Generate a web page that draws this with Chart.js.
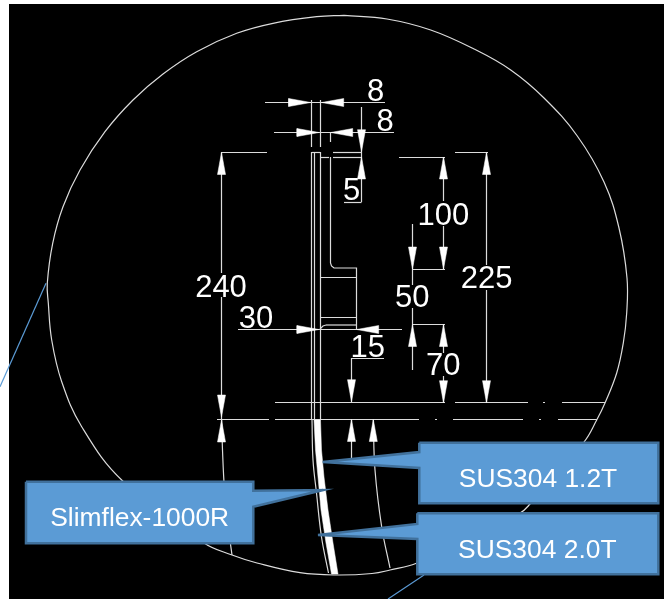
<!DOCTYPE html>
<html>
<head>
<meta charset="utf-8">
<title>Slimflex-1000R</title>
<script src="https://cdn.jsdelivr.net/npm/chart.js@4/dist/chart.umd.min.js"></script>
<style>
	html, body { margin:0; padding:0; background:#fff; }
	canvas { display:block; }
</style>
</head>
<body>
<canvas id="myChart" width="664" height="599"></canvas>
<script>
// drawing area
var plate = [[9,4],[664,4],[664,599],[9,599],[9,4]];

// detail circle, clockwise from the top
var circle = [[344,15.3],[387,19],[430.7,30],[474,49],[510.7,70],[544,98],[577.3,136],[604,182],[619,228],[627,278],[626.7,313],[623.3,343],[616.7,373],[605,403],[596.7,420],[584,442],[530,504],[520,513],[417,563],[390,570],[372,573.5],[336,575],[300,572.7],[257,563],[232,555],[204,543],[122.7,481],[81.7,426.7],[61.7,381.7],[51.7,340],[48.3,303],[47.3,283.3],[52.7,243.3],[63,206.7],[80,170],[105,131.7],[133,100],[163,74],[196.7,51.7],[236.7,33.3],[273,23.3],[316.7,16.7],[344,15.3]];

// curved sheet below the break line
var sheet = [[314,420],[315.5,450],[318,477],[321,510],[326,543],[331.5,574],[338,574],[333,543],[328,510],[324,477],[321.5,450],[320.5,420],[314,420]];
var sheetEdge = [[312,420],[313,460],[316.5,493],[321.5,537],[328.5,573]];
var leftCurve = [[221.7,420],[222.5,450],[224.5,490],[228,525],[232,555]];
var rightCurve = [[373.3,420],[375,470],[381.7,527],[390,568]];

// straight lines: x1, y1, x2, y2
var lines = [
	[265,102.5,385,102.5],[311.5,100,311.5,147],[320.5,100,320.5,147],
	[274,132.5,394,132.5],[330.5,132,330.5,142],
	[361.5,107,361.5,202],[344,202.5,361.5,202.5],
	[221,152.5,267,152.5],[312,152.5,320,152.5],[333,152.5,362,152.5],[455,152.5,488,152.5],
	[320,157.5,329,157.5],[333,157.5,362,157.5],[399,157.5,445,157.5],
	[221.5,152,221.5,273],[221.5,297,221.5,419],
	[311.5,152,311.5,420],[314.5,152,314.5,420],[320.5,152,320.5,420],
	[320,277.5,356,277.5],[320,317.5,356,317.5],[326,325,356,325],
	[238,329.5,402,329.5],
	[351.5,358.5,384,358.5],[351.5,358,351.5,402],[351.5,420,351.5,460],
	[443.5,157,443.5,201],[443.5,226,443.5,269],[412,269.5,445,269.5],
	[412,324.5,445,324.5],[443.5,324,443.5,353],[443.5,376,443.5,403],
	[412.5,224,412.5,285],[412.5,308,412.5,370],
	[486.5,152,486.5,265],[486.5,290,486.5,403],
	[275,402.5,445,402.5],[455,402.5,528,402.5],[543,402.5,545,402.5],[562,402.5,605,402.5],
	[217,419.5,269,419.5],[275,419.5,419,419.5],[435,419.5,437,419.5],[453,419.5,523,419.5],[539,419.5,541,419.5],[558,419.5,597,419.5]
];
var flange = [[330.5,157],[330.5,263],[331.5,266],[334,268],[356.5,268],[356.5,330]];
var flangeFoot = [[320,329],[323,326],[326,325]];

// arrow tips
var arrowsRight = [[310.7,102.5],[319,132.5],[319,329.5]];
var arrowsLeft = [[321.7,102.5],[330.7,132.5],[356.7,329.5]];
var arrowsUp = [[221.5,152.5],[361.5,157],[443.5,157],[486.5,152.5],[412.5,324.5],[443.5,324.5],[221.5,420],[351.5,419.5],[373.3,419.5]];
var arrowsDown = [[361.5,151.7],[443.5,269],[412.5,269],[443.5,402.7],[486.5,402.7],[221.5,417],[351.5,401.7]];

// leader lines outside the circle
var leaderLeft = [[46,283.3],[0,386.7]];
var leaderBottom = [[424,575],[388,599]];

// callouts
var calloutSheet1 = [[419.3,442.7],[658.3,442.7],[658.3,503.3],[419.3,503.3],[419.3,468],[322.7,462],[419.3,452],[419.3,442.7]];
var calloutSheet2 = [[417.3,513.3],[658.3,513.3],[658.3,574.3],[417.3,574.3],[417.3,539],[318,535],[417.3,524],[417.3,513.3]];
var calloutSlim = [[26,481.7],[253.3,481.7],[253.3,490.7],[323,490],[253.3,506.7],[253.3,543.3],[26,543.3],[26,481.7]];

// texts
var dimLabels = ["8","8","5","240","30","15","100","50","225","70"];
var dimX = [375.7,385,351.7,221,256,367.7,443.3,412.3,486.7,443.3];
var dimY = [92,122,191.3,288,319,348.7,216,298.7,279.7,366];
var calloutLabels = ["SUS304 1.2T","SUS304 2.0T","Slimflex-1000R"];
var calloutX = [538,537.3,139.7];
var calloutY = [479.5,550.8,518.8];

var lineColor = "#dcdcdc";
var sets = [];

function toPoints(list){
	return list.map(function(p){ return {x:p[0], y:p[1]}; });
}
function addLine(list, color, width, tension){
	sets.push({
		data : toPoints(list),
		showLine : true,
		pointRadius : 0,
		borderColor : color,
		borderWidth : width,
		tension : tension || 0,
		clip : false
	});
}
function addShape(list, fill, edge, width){
	sets.push({
		data : toPoints(list),
		showLine : true,
		pointRadius : 0,
		fill : "shape",
		backgroundColor : fill,
		borderColor : edge,
		borderWidth : width,
		borderJoinStyle : "miter",
		clip : false
	});
}
function addArrows(tips, dx, dy){
	tips.forEach(function(t){
		var bx = t[0] + dx * 22, by = t[1] + dy * 22;
		addShape([[t[0],t[1]],[bx + dy * 4,by + dx * 4],[bx - dy * 4,by - dx * 4],[t[0],t[1]]], "#fff", "#fff", 0.5);
	});
}

addShape(plate, "#000", "#000", 0);
addLine(leaderLeft, "#5b9bd5", 1.2);
addLine(leaderBottom, "#5b9bd5", 1.2);
addLine(circle, lineColor, 1.2, 0.4);
addLine(leftCurve, lineColor, 1.2, 0.4);
addLine(rightCurve, lineColor, 1.2, 0.4);
lines.forEach(function(l){
	addLine([[l[0],l[1]],[l[2],l[3]]], lineColor, 1.2);
});
addLine(flange, lineColor, 1.2);
addLine(flangeFoot, lineColor, 1.2);
addLine(sheetEdge, lineColor, 1.2, 0.4);
addShape(sheet, "#fff", "#fff", 0.5);
addArrows(arrowsRight, -1, 0);
addArrows(arrowsLeft, 1, 0);
addArrows(arrowsUp, 0, 1);
addArrows(arrowsDown, 0, -1);
addShape(calloutSheet1, "#5b9bd5", "#41719c", 2.5);
addShape(calloutSheet2, "#5b9bd5", "#41719c", 2.5);
addShape(calloutSlim, "#5b9bd5", "#41719c", 2.5);

// lower order is painted on top, so the first set gets the highest one
sets.forEach(function(s, i){ s.order = sets.length - i; });

var textPlugin = {
	id : "drawingText",
	afterDatasetsDraw : function(chart){
		var c = chart.ctx, sx = chart.scales.x, sy = chart.scales.y;
		c.save();
		c.fillStyle = "#fff";
		c.textAlign = "center";
		c.textBaseline = "middle";
		c.font = "31px 'Liberation Sans'";
		dimLabels.forEach(function(t, i){
			c.fillText(t, sx.getPixelForValue(dimX[i]), sy.getPixelForValue(dimY[i]));
		});
		c.font = "26.4px 'Liberation Sans'";
		calloutLabels.forEach(function(t, i){
			c.fillText(t, sx.getPixelForValue(calloutX[i]), sy.getPixelForValue(calloutY[i]));
		});
		c.restore();
	}
};

var ctx = document.getElementById("myChart").getContext("2d");
new Chart(ctx, {
	type : "scatter",
	data : { datasets : sets },
	plugins : [textPlugin],
	options : {
		responsive : false,
		animation : false,
		layout : { padding : 0 },
		plugins : { legend : { display : false }, tooltip : { enabled : false } },
		scales : {
			x : { type : "linear", min : 0, max : 664, display : false },
			y : { type : "linear", min : 0, max : 599, reverse : true, display : false }
		}
	}
});
</script>
</body>
</html>
